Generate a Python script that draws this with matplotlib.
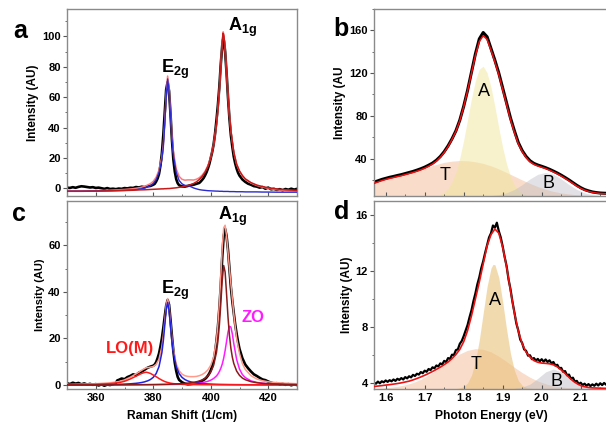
import matplotlib
matplotlib.use("Agg")
import matplotlib.pyplot as plt
from matplotlib.ticker import MultipleLocator

plt.rcParams['font.family'] = ['Liberation Sans', 'DejaVu Sans']
plt.rcParams['font.weight'] = 'bold'
plt.rcParams['axes.labelweight'] = 'bold'
plt.rcParams['mathtext.fontset'] = 'custom'
plt.rcParams['mathtext.rm'] = 'Liberation Sans'
plt.rcParams['mathtext.bf'] = 'Liberation Sans:bold'

# ---------------- Panel a (Raman, sample 1) ----------------
xa_data = [350, 351, 352, 353, 354, 355, 356, 357, 358, 359, 360, 361, 362, 363, 364, 365, 366, 367, 368, 369,
           370, 371, 372, 373, 374, 375, 376, 377, 378, 379, 380, 380.5, 381, 381.5, 382, 382.5, 383, 383.5, 384,
           384.5, 385, 385.5, 386, 386.5, 387, 387.5, 388, 388.5, 389, 390, 391, 392, 393, 394, 395, 396, 396.5,
           397, 397.5, 398, 398.5, 399, 399.5, 400, 400.5, 401, 401.5, 402, 402.5, 403, 403.5, 404, 404.3, 404.6,
           405, 405.5, 406, 406.5, 407, 407.5, 408, 408.5, 409, 409.5, 410, 411, 412, 413, 414, 415, 416, 417,
           418, 419, 420, 421, 422, 423, 424, 425, 426, 427, 428, 429, 430]
ya_data = [0.5, 0.3, 0.8, 0.4, 1.0, 1.4, 1.2, 0.9, 0.6, 0.8, 0.3, 0.5, 0.1, -0.3, 0.2, -0.4, -0.2, -0.5, -0.1, -0.3,
           0.2, 0.0, 0.4, 0.3, 0.9, 0.6, 1.1, 0.8, 1.4, 1.6, 2.4, 3.0, 4.5, 6.5, 9.5, 15, 23, 35, 50,
           65, 70, 64, 49, 32, 19, 11, 6.0, 3.4, 2.1, 1.3, 1.2, 1.6, 2.1, 2.4, 3.0, 3.6, 4.5,
           5.6, 6.8, 8.5, 10.5, 13, 16, 20, 24, 29, 36, 45, 55, 67, 82, 94, 98, 97,
           90, 76, 60, 46, 35, 27.5, 21, 16.5, 13, 10.3, 8.4, 5.9, 4.3, 3.1, 2.4, 1.5, 1.2, 0.5,
           0.9, -0.2, 0.5, -0.6, -0.3, -1.0, -0.5, -1.2, -0.4, -0.9, -0.2, -0.8, -0.3]

xa_fit = [350, 355, 360, 365, 370, 373, 375, 377, 379, 380, 381, 382, 383, 383.5, 384, 384.5, 385, 385.5, 386,
          386.5, 387, 388, 389, 390, 391, 392, 393, 394, 395, 396, 397, 398, 399, 400, 401, 402, 402.5, 403,
          403.5, 404, 404.3, 404.6, 405, 405.5, 406, 406.5, 407, 408, 409, 410, 411, 412, 414, 416, 418, 420,
          423, 426, 430]
ya_e2g = [-1.8, -1.8, -1.7, -1.6, -1.3, -1.0, -0.6, 0.2, 1.8, 3.2, 5.8, 10.5, 19, 27, 42, 60, 72, 64, 48,
          33, 22, 10.5, 5.2, 3.0, 2.0, 1.8, 1.2, 0.3, -0.3, -0.8, -1.1, -1.3, -1.5, -1.6, -1.7, -1.8, -1.8, -1.9,
          -1.9, -1.9, -2.0, -2.0, -2.0, -2.0, -2.0, -2.1, -2.1, -2.1, -2.2, -2.2, -2.2, -2.3, -2.3, -2.3, -2.4, -2.4,
          -2.5, -2.5, -2.5]
ya_a1g = [-1.9, -1.9, -1.8, -1.6, -1.4, -1.2, -1.0, -0.9, -0.7, -0.6, -0.5, -0.4, -0.3, -0.3, -0.2, -0.2, -0.1, -0.1, 0.0,
          0.1, 0.2, 0.4, 0.7, 1.0, 1.4, 1.8, 2.4, 3.2, 4.3, 5.8, 7.8, 10.5, 14.5, 20, 28.5, 42, 52, 65,
          81, 97, 102, 100, 91, 76, 61, 48, 38, 24, 16, 11.5, 8.5, 6.3, 3.8, 2.2, 1.2, 0.4,
          -0.4, -0.9, -1.3]
ya_env = [-1.7, -1.7, -1.5, -1.2, -0.7, -0.2, 0.4, 1.3, 3.1, 4.6, 7.3, 12.1, 20.7, 28.7, 43.8, 61.8, 73.9, 65.9, 50,
          35.1, 24.2, 12.9, 7.9, 6.0, 5.4, 5.6, 5.6, 5.5, 6.0, 7.0, 8.7, 11.2, 15.0, 20.4, 28.8, 42.2, 52.2, 65.1,
          81.1, 97.1, 103, 101, 91, 76, 61, 47.9, 37.9, 23.9, 15.8, 11.3, 8.3, 6.0, 3.5, 1.9, 0.8, 0.0,
          -0.9, -1.4, -1.8]

# ---------------- Panel c (Raman, sample 2) ----------------
xc_data = [350, 351, 352, 353, 354, 355, 356, 357, 358, 359, 360, 361, 362, 363, 364, 365, 366, 367, 367.5, 368,
           369, 370, 371, 372, 373, 374, 375, 376, 377, 378, 379, 380, 380.5, 381, 381.5, 382, 382.5, 383, 383.5,
           384, 384.5, 385, 385.5, 386, 386.5, 387, 387.5, 388, 388.5, 389, 390, 391, 392, 393, 394, 395, 396,
           397, 398, 398.5, 399, 399.5, 400, 400.5, 401, 401.5, 402, 402.5, 403, 403.5, 404, 404.5, 405, 405.5,
           406, 406.5, 407, 407.5, 408, 408.5, 409, 409.5, 410, 411, 412, 413, 414, 415, 416, 417, 418, 419,
           420, 421, 422, 423, 424, 425, 426, 427, 428, 429, 430]
yc_data = [0.8, 0.4, 1.0, 0.6, 0.9, 0.3, 0.7, 0.2, 0.5, 0.1, 0.4, -0.2, 0.3, -0.3, 0.2, 0.0, 0.4, 0.9, 2.0, 2.2,
           2.8, 2.5, 3.4, 3.9, 4.6, 4.2, 5.3, 5.8, 6.6, 7.4, 7.9, 8.3, 8.8, 9.8, 11.5, 13.5, 16.5, 20, 24.5,
           29.5, 34, 36.5, 34.5, 28, 21, 14.5, 9.5, 6, 3.5, 2.2, 1.2, 0.6, 0.3, 0.4, 0.6, 0.9, 1.3,
           1.8, 2.6, 3.2, 4.0, 5.0, 6.3, 8.0, 10.5, 14, 19, 25, 33, 43, 55, 64, 67, 64,
           58, 50, 42, 36, 31, 26, 22, 18.5, 15.5, 11.5, 8.8, 7.2, 5.8, 4.6, 3.9, 3.1, 2.4, 2.1,
           1.5, 1.0, 0.6, 0.8, 0.3, 0.5, 0.1, 0.4, -0.1, 0.3, 0.0]

xc_fit = [350, 355, 360, 365, 368, 370, 372, 374, 375, 376, 377, 377.5, 378, 379, 380, 381, 382, 383, 383.5, 384,
          384.5, 385, 385.5, 386, 386.5, 387, 388, 389, 390, 391, 392, 393, 394, 395, 396, 397, 398, 399, 400,
          401, 402, 402.5, 403, 403.5, 404, 404.5, 405, 405.5, 406, 406.5, 407, 407.5, 408, 409, 410, 411, 412,
          414, 416, 418, 420, 423, 426, 430]
yc_lom = [0.1, 0.2, 0.3, 0.6, 1.0, 1.6, 2.6, 3.8, 4.4, 5.0, 5.4, 5.5, 5.4, 5.0, 4.3, 3.6, 2.8, 2.1, 1.8, 1.5,
          1.3, 1.1, 0.95, 0.8, 0.7, 0.6, 0.5, 0.4, 0.3, 0.25, 0.2, 0.2, 0.18, 0.17, 0.16, 0.15, 0.14, 0.13, 0.12,
          0.11, 0.1, 0.1, 0.1, 0.1, 0.1, 0.1, 0.1, 0.1, 0.1, 0.1, 0.1, 0.1, 0.1, 0.1, 0.1, 0.1, 0.1,
          0.1, 0.1, 0.1, 0.1, 0.1, 0.1, 0.1]
yc_e2g = [0.07, 0.1, 0.14, 0.23, 0.31, 0.4, 0.53, 0.74, 0.89, 1.1, 1.37, 1.6, 1.77, 2.36, 3.3, 4.9, 7.9, 13.9, 18.9, 25.5,
          32.3, 35.5, 32.3, 25.5, 18.9, 13.9, 7.9, 4.9, 3.3, 2.36, 1.77, 1.37, 1.1, 0.89, 0.74, 0.62, 0.53, 0.46, 0.4,
          0.35, 0.31, 0.29, 0.27, 0.26, 0.25, 0.24, 0.23, 0.22, 0.21, 0.2, 0.2, 0.19, 0.18, 0.17, 0.16, 0.15, 0.14,
          0.13, 0.12, 0.11, 0.1, 0.09, 0.08, 0.07]
yc_a1g = [0.05, 0.06, 0.07, 0.08, 0.1, 0.11, 0.12, 0.14, 0.15, 0.16, 0.17, 0.18, 0.18, 0.2, 0.21, 0.23, 0.25, 0.28, 0.29, 0.3,
          0.32, 0.33, 0.35, 0.37, 0.39, 0.42, 0.47, 0.54, 0.61, 0.7, 0.82, 0.96, 1.15, 1.39, 1.72, 2.18, 2.86, 3.9, 5.6,
          8.5, 14.1, 18.9, 25.8, 35, 45.2, 51.3, 48.5, 39.1, 29.2, 21.4, 15.8, 12, 9.3, 6.0, 4.15, 3.0, 2.3,
          1.45, 0.99, 0.73, 0.55, 0.39, 0.29, 0.2]
yc_zo = [0.03, 0.04, 0.05, 0.06, 0.07, 0.08, 0.09, 0.1, 0.1, 0.11, 0.12, 0.12, 0.12, 0.13, 0.14, 0.15, 0.17, 0.18, 0.19, 0.19,
         0.2, 0.21, 0.23, 0.24, 0.25, 0.26, 0.29, 0.32, 0.36, 0.41, 0.46, 0.53, 0.62, 0.72, 0.86, 1.04, 1.28, 1.61, 2.09,
         2.8, 3.9, 4.7, 5.8, 7.2, 9.0, 11.5, 14.8, 18.75, 22.7, 25.2, 24.9, 22.0, 17.9, 11.0, 6.85, 4.5, 3.2,
         1.78, 1.13, 0.78, 0.56, 0.37, 0.27, 0.18]
yc_env = [0.25, 0.4, 0.56, 0.97, 1.48, 2.19, 3.34, 4.78, 5.54, 6.37, 7.06, 7.4, 7.47, 7.69, 7.95, 8.88, 11.12, 16.46, 21.18, 27.49,
          34.12, 37.14, 33.83, 26.91, 20.24, 15.18, 9.16, 6.16, 4.7, 4.0, 3.7, 3.6, 3.6, 3.7, 4.0, 4.5, 5.3, 6.5, 8.5,
          12.0, 19.5, 26.0, 35.0, 47.0, 59.0, 67.5, 68.6, 64.0, 57.0, 50.0, 43.5, 37.0, 30.5, 20.0, 13.5, 9.2, 6.7,
          4.0, 2.6, 1.85, 1.4, 1.0, 0.78, 0.58]

# ---------------- Panel b (PL, sample 1) ----------------
xb_data = [1.57, 1.58, 1.59, 1.60, 1.61, 1.62, 1.63, 1.64, 1.65, 1.66, 1.67, 1.68, 1.69, 1.70, 1.71, 1.72, 1.73, 1.74,
           1.75, 1.76, 1.77, 1.78, 1.79, 1.80, 1.81, 1.82, 1.83, 1.84, 1.85, 1.86, 1.87, 1.88, 1.89, 1.90, 1.91,
           1.92, 1.93, 1.94, 1.95, 1.96, 1.97, 1.98, 1.99, 2.00, 2.01, 2.02, 2.03, 2.04, 2.05, 2.06, 2.07, 2.08,
           2.09, 2.10, 2.11, 2.12, 2.13, 2.14, 2.15, 2.16, 2.17]
yb_data = [18, 19.2, 20.5, 21.5, 22.5, 23.3, 24.2, 25.0, 26.0, 27.0, 28.0, 29.2, 30.5, 32.0, 33.8, 35.8, 38.5, 42.0,
           46.5, 52, 58.5, 66, 76, 89, 104, 121, 138, 152, 158, 154, 143, 132, 120, 106, 92,
           78, 66, 55, 47.5, 42, 38, 35.5, 34, 32.8, 31.5, 30, 28.3, 26.5, 24.5, 22.3, 20, 17.5,
           15, 12.8, 11, 9.8, 8.8, 8.2, 7.8, 7.6, 7.5]
yb_fit = [16.8, 18.1, 19.4, 20.5, 21.5, 22.3, 23.2, 24.0, 25.0, 26.0, 27.0, 28.2, 29.5, 31.0, 32.8, 34.9, 37.6, 41.2,
          45.8, 51.3, 58, 65.5, 75.5, 88.5, 103.5, 120, 136.5, 149.5, 155, 151.5, 141.5, 130.5, 118.5, 104.5, 90.5,
          76.5, 64.5, 53.8, 46.5, 41, 37, 34.6, 33.1, 31.9, 30.7, 29.2, 27.5, 25.7, 23.7, 21.5, 19.2, 16.7,
          14.3, 12.2, 10.5, 9.3, 8.4, 7.8, 7.4, 7.2, 7.1]
xb_T = [1.57, 1.60, 1.63, 1.66, 1.69, 1.72, 1.75, 1.77, 1.79, 1.81, 1.83, 1.85, 1.87, 1.89, 1.91, 1.93, 1.95, 1.97,
        1.99, 2.01, 2.03, 2.05, 2.07, 2.09, 2.11, 2.14, 2.17]
yb_T = [17.0, 20.5, 24.0, 27.0, 30.0, 33.5, 36.5, 37.6, 38.2, 38.0, 37.0, 35.5, 33.2, 30.3, 27, 23.5, 20, 16.8,
        13.8, 11.3, 9.3, 7.9, 6.9, 6.2, 5.7, 5.3, 5.1]
xb_A = [1.74, 1.75, 1.76, 1.77, 1.78, 1.79, 1.80, 1.81, 1.82, 1.83, 1.84, 1.85, 1.86, 1.87, 1.88, 1.89, 1.90, 1.91,
        1.92, 1.93, 1.94, 1.95, 1.96]
yb_A = [6.7, 8.6, 12.2, 18.2, 27.5, 40.6, 57.4, 76.7, 96.3, 113, 123.7, 126.5, 120.3, 106.8, 88.6, 68.8, 50.2, 34.9,
        23.3, 15.4, 10.5, 7.7, 6.2]
xb_B = [1.87, 1.89, 1.91, 1.93, 1.95, 1.97, 1.99, 2.01, 2.03, 2.05, 2.07, 2.09, 2.11, 2.13, 2.15, 2.17]
yb_B = [5.4, 6.2, 8.0, 11.1, 15.7, 21, 25.3, 27, 25.3, 21, 15.7, 11.1, 8.0, 6.2, 5.4, 5.1]

# ---------------- Panel d (PL, sample 2) ----------------
xd_data = [1.570, 1.575, 1.580, 1.585, 1.590, 1.595, 1.600, 1.605, 1.610, 1.615, 1.620, 1.625, 1.630, 1.635, 1.640,
           1.645, 1.650, 1.655, 1.660, 1.665, 1.670, 1.675, 1.680, 1.685, 1.690, 1.695, 1.700, 1.705, 1.710, 1.715,
           1.720, 1.725, 1.730, 1.735, 1.740, 1.745, 1.750, 1.755, 1.760, 1.765, 1.770, 1.775, 1.780, 1.785, 1.790,
           1.795, 1.800, 1.805, 1.810, 1.815, 1.820, 1.825, 1.830, 1.835, 1.840, 1.845, 1.850, 1.855, 1.860, 1.865,
           1.870, 1.875, 1.880, 1.885, 1.890, 1.895, 1.900, 1.905, 1.910, 1.915, 1.920, 1.925, 1.930, 1.935, 1.940,
           1.945, 1.950, 1.955, 1.960, 1.965, 1.970, 1.975, 1.980, 1.985, 1.990, 1.995, 2.000, 2.005, 2.010, 2.015,
           2.020, 2.025, 2.030, 2.035, 2.040, 2.045, 2.050, 2.055, 2.060, 2.065, 2.070, 2.075, 2.080, 2.085, 2.090,
           2.095, 2.100, 2.105, 2.110, 2.115, 2.120, 2.125, 2.130, 2.135, 2.140, 2.145, 2.150, 2.155, 2.160, 2.165,
           2.170]
yd_data = [4.02, 3.95, 4.10, 3.98, 4.12, 4.05, 4.18, 4.08, 4.20, 4.12, 4.25, 4.15, 4.30, 4.22, 4.35,
           4.25, 4.42, 4.33, 4.48, 4.40, 4.58, 4.50, 4.66, 4.60, 4.78, 4.70, 4.88, 4.80, 5.00, 4.92,
           5.12, 5.05, 5.25, 5.18, 5.40, 5.33, 5.58, 5.50, 5.78, 5.72, 6.02, 6.00, 6.35, 6.40, 6.80,
           7.00, 7.35, 7.75, 8.15, 8.70, 9.20, 9.85, 10.40, 11.05, 11.55, 12.20, 12.70, 13.30, 13.85, 14.40,
           14.70, 15.25, 15.10, 15.45, 14.85, 14.40, 13.75, 13.00, 12.35, 11.40, 10.70, 9.80, 9.05, 8.25, 7.75,
           7.10, 6.85, 6.40, 6.30, 5.95, 5.98, 5.70, 5.78, 5.60, 5.72, 5.55, 5.70, 5.52, 5.68, 5.50,
           5.62, 5.40, 5.50, 5.25, 5.30, 5.05, 5.08, 4.80, 4.85, 4.55, 4.60, 4.30, 4.38, 4.10, 4.15,
           3.92, 4.02, 3.85, 3.95, 3.80, 3.92, 3.78, 3.90, 3.80, 3.95, 3.82, 3.98, 3.85, 4.00, 3.88,
           4.02]
xd_fit = [1.57, 1.58, 1.59, 1.60, 1.61, 1.62, 1.63, 1.64, 1.65, 1.66, 1.67, 1.68, 1.69, 1.70, 1.71, 1.72, 1.73, 1.74,
          1.75, 1.76, 1.77, 1.78, 1.79, 1.80, 1.81, 1.82, 1.83, 1.84, 1.85, 1.86, 1.87, 1.88, 1.89, 1.90, 1.91,
          1.92, 1.93, 1.94, 1.95, 1.96, 1.97, 1.98, 1.99, 2.00, 2.01, 2.02, 2.03, 2.04, 2.05, 2.06, 2.07, 2.08,
          2.09, 2.10, 2.11, 2.12, 2.13, 2.14, 2.15, 2.16, 2.17]
yd_fit = [3.75, 3.78, 3.81, 3.85, 3.88, 3.92, 3.96, 4.01, 4.07, 4.13, 4.22, 4.32, 4.43, 4.55, 4.68, 4.82, 4.97, 5.13,
          5.31, 5.5, 5.74, 6.03, 6.4, 6.95, 7.75, 8.8, 10.0, 11.2, 12.5, 13.8, 14.6, 15.0, 14.7, 13.7, 12.3,
          10.6, 9.0, 7.7, 6.8, 6.2, 5.85, 5.6, 5.48, 5.42, 5.4, 5.37, 5.3, 5.15, 4.93, 4.67, 4.4, 4.15,
          3.96, 3.82, 3.73, 3.68, 3.65, 3.64, 3.63, 3.62, 3.62]
xd_T = [1.57, 1.59, 1.61, 1.63, 1.65, 1.67, 1.69, 1.71, 1.73, 1.75, 1.77, 1.79, 1.81, 1.83, 1.85, 1.87, 1.89, 1.91,
        1.93, 1.95, 1.97, 1.99, 2.01, 2.03, 2.05, 2.07, 2.09, 2.11, 2.13, 2.17]
yd_T = [3.62, 3.64, 3.69, 3.76, 3.87, 4.03, 4.26, 4.57, 4.93, 5.33, 5.73, 6.08, 6.33, 6.45, 6.41, 6.22, 5.91, 5.53,
        5.12, 4.74, 4.41, 4.14, 3.94, 3.8, 3.72, 3.66, 3.63, 3.61, 3.6, 3.6]
xd_A = [1.78, 1.79, 1.80, 1.81, 1.82, 1.83, 1.84, 1.85, 1.86, 1.87, 1.875, 1.88, 1.89, 1.90, 1.91, 1.92, 1.93, 1.94,
        1.95, 1.96, 1.97, 1.98]
yd_A = [3.61, 3.65, 3.75, 4.01, 4.56, 5.56, 7.08, 9.0, 10.9, 12.2, 12.47, 12.45, 11.53, 9.79, 7.82, 6.1, 4.9, 4.18,
        3.83, 3.68, 3.62, 3.6]
xd_B = [1.93, 1.95, 1.97, 1.99, 2.01, 2.03, 2.05, 2.07, 2.09, 2.11, 2.13, 2.15, 2.17]
yd_B = [3.62, 3.7, 3.92, 4.33, 4.79, 5.0, 4.79, 4.33, 3.92, 3.7, 3.62, 3.6, 3.6]

# ---------------- Figure ----------------
W, H = 606, 423
fig = plt.figure(figsize=(W / 100, H / 100), dpi=100)


def px_axes(left, top, right, bottom):
    return fig.add_axes([left / W, 1 - bottom / H, (right - left) / W, (bottom - top) / H])


ax_a = px_axes(67, 9, 297, 196)
ax_c = px_axes(67, 201, 297, 389)
ax_b = px_axes(374, 9, 608, 196)
ax_d = px_axes(374, 201, 608, 389)

SPINE = '#8a8a8a'
for ax in (ax_a, ax_b, ax_c, ax_d):
    for s in ax.spines.values():
        s.set_color(SPINE)
        s.set_linewidth(1.0)
    ax.tick_params(axis='x', which='both', direction='in', colors='#555555', labelcolor='black',
                   labelsize=8, pad=3)
    ax.tick_params(axis='y', which='both', direction='out', colors='#555555', labelcolor='black',
                   labelsize=8, pad=1.5)
    ax.tick_params(which='major', length=3, width=0.8)
    ax.tick_params(which='minor', length=1.8, width=0.6)

BLACK_LW = 1.9

# ---- a ----
ax_a.plot(xa_data, ya_data, color='black', lw=BLACK_LW, zorder=2)
ax_a.plot(xa_fit, ya_env, color='#ff7a7a', lw=1.1, zorder=3)
ax_a.plot(xa_fit, ya_e2g, color='#2b2bd0', lw=1.0, zorder=4)
ax_a.plot(xa_fit, ya_a1g, color='#c41a1a', lw=1.1, zorder=4)
ax_a.set_xlim(350, 430)
ax_a.set_ylim(-5, 118)
ax_a.xaxis.set_major_locator(MultipleLocator(20))
ax_a.xaxis.set_minor_locator(MultipleLocator(10))
ax_a.yaxis.set_major_locator(MultipleLocator(20))
ax_a.yaxis.set_minor_locator(MultipleLocator(10))
ax_a.set_xticklabels([])
ax_a.set_ylabel('Intensity (AU)', fontsize=8.5, labelpad=2)
ax_a.text(387.5, 78, r'$\mathbf{E_{2g}}$', fontsize=13, ha='center', va='center')
ax_a.text(411, 106, r'$\mathbf{A_{1g}}$', fontsize=13, ha='center', va='center')

# ---- c ----
ax_c.plot(xc_data, yc_data, color='black', lw=BLACK_LW, zorder=2)
ax_c.plot(xc_fit, yc_env, color='#ff9a8c', lw=1.1, zorder=3)
ax_c.plot(xc_fit, yc_zo, color='#ff1aff', lw=1.1, zorder=4)
ax_c.plot(xc_fit, yc_e2g, color='#2020e0', lw=1.1, zorder=4)
ax_c.plot(xc_fit, yc_lom, color='#ff1a1a', lw=1.1, zorder=4)
ax_c.plot(xc_fit, yc_a1g, color='#8b1a1a', lw=1.1, zorder=4)
ax_c.set_xlim(350, 430)
ax_c.set_ylim(-1.7, 79)
ax_c.xaxis.set_major_locator(MultipleLocator(20))
ax_c.xaxis.set_minor_locator(MultipleLocator(10))
ax_c.yaxis.set_major_locator(MultipleLocator(20))
ax_c.yaxis.set_minor_locator(MultipleLocator(10))
ax_c.set_ylabel('Intensity (AU)', fontsize=8, labelpad=2)
ax_c.set_xlabel('Raman Shift (1/cm)', fontsize=8.7, labelpad=5)
ax_c.text(387.5, 40.5, r'$\mathbf{E_{2g}}$', fontsize=13, ha='center', va='center')
ax_c.text(407.5, 72.5, r'$\mathbf{A_{1g}}$', fontsize=13, ha='center', va='center')
ax_c.text(414.6, 29, 'ZO', fontsize=12, color='#ff1aff', ha='center', va='center', fontweight='bold')
ax_c.text(372, 15.6, 'LO(M)', fontsize=12, color='#ff1a1a', ha='center', va='center', fontweight='bold')

# ---- b ----
ax_b.fill_between(xb_T, 0, yb_T, color='#f2b48a', alpha=0.45, lw=0, zorder=1)
ax_b.fill_between(xb_A, 0, yb_A, color='#f0e69a', alpha=0.5, lw=0, zorder=1)
ax_b.fill_between(xb_B, 0, yb_B, color='#b8b8c2', alpha=0.4, lw=0, zorder=1)
ax_b.plot(xb_data, yb_data, color='black', lw=2.2, zorder=2)
ax_b.plot(xb_data, yb_fit, color='#ee1111', lw=1.1, zorder=3)
ax_b.set_xlim(1.57, 2.17)
ax_b.set_ylim(5, 180)
ax_b.xaxis.set_major_locator(MultipleLocator(0.1))
ax_b.xaxis.set_minor_locator(MultipleLocator(0.05))
ax_b.yaxis.set_major_locator(MultipleLocator(40))
ax_b.yaxis.set_minor_locator(MultipleLocator(20))
ax_b.set_xticklabels([])
ax_b.set_ylabel('Intensity (AU', fontsize=8.5, labelpad=2)
ax_b.spines['right'].set_visible(False)
ax_b.text(1.853, 103, 'A', fontsize=13, fontweight='normal', ha='center', va='center')
ax_b.text(1.753, 24, 'T', fontsize=13, fontweight='normal', ha='center', va='center')
ax_b.text(2.018, 16.3, 'B', fontsize=13, fontweight='normal', ha='center', va='center')

# ---- d ----
ax_d.fill_between(xd_T, 0, yd_T, color='#f2b48a', alpha=0.45, lw=0, zorder=1)
ax_d.fill_between(xd_A, 0, yd_A, color='#eac27a', alpha=0.6, lw=0, zorder=1)
ax_d.fill_between(xd_B, 0, yd_B, color='#b8b8c2', alpha=0.45, lw=0, zorder=1)
ax_d.plot(xd_data, yd_data, color='black', lw=1.6, zorder=2)
ax_d.plot(xd_fit, yd_fit, color='#ee1111', lw=1.2, zorder=3)
ax_d.set_xlim(1.57, 2.17)
ax_d.set_ylim(3.57, 17)
ax_d.xaxis.set_major_locator(MultipleLocator(0.1))
ax_d.xaxis.set_minor_locator(MultipleLocator(0.05))
ax_d.yaxis.set_major_locator(MultipleLocator(4))
ax_d.yaxis.set_minor_locator(MultipleLocator(2))
ax_d.set_ylabel('Intensity (AU)', fontsize=8.5, labelpad=2)
ax_d.set_xlabel('Photon Energy (eV)', fontsize=8.7, labelpad=5)
ax_d.spines['right'].set_visible(False)
ax_d.text(1.88, 9.9, 'A', fontsize=13, fontweight='normal', ha='center', va='center')
ax_d.text(1.831, 5.35, 'T', fontsize=13, fontweight='normal', ha='center', va='center')
ax_d.text(2.039, 4.1, 'B', fontsize=13, fontweight='normal', ha='center', va='center')

for ax in (ax_a, ax_b, ax_c, ax_d):
    for lab in ax.get_xticklabels() + ax.get_yticklabels():
        lab.set_fontweight('bold')

# panel letters
fig.text(20 / W, 1 - 31 / H, 'a', fontsize=18, fontweight='bold', ha='center', va='center')
fig.text(341 / W, 1 - 29 / H, 'b', fontsize=18, fontweight='bold', ha='center', va='center')
fig.text(19 / W, 1 - 214 / H, 'c', fontsize=18, fontweight='bold', ha='center', va='center')
fig.text(342 / W, 1 - 212 / H, 'd', fontsize=18, fontweight='bold', ha='center', va='center')

fig.savefig('out.png', dpi=100)
